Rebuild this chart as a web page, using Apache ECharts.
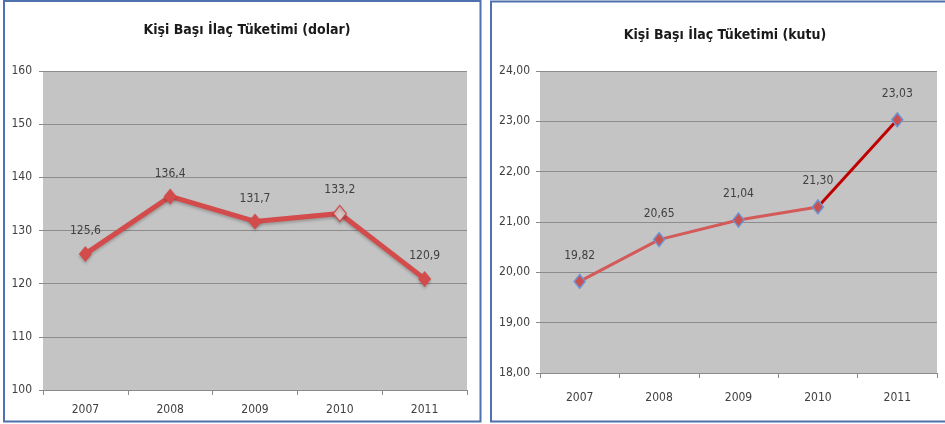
<!DOCTYPE html>
<html>
<head>
<meta charset="utf-8">
<script src="https://cdn.jsdelivr.net/npm/echarts@6/dist/echarts.min.js"></script>
<style>
  html, body { margin: 0; padding: 0; background: #ffffff; }
  #chart { width: 945px; height: 424px; }
</style>
</head>
<body>
<div id="chart"></div>
<script>
// Years shared by both panels
const years = ['2007', '2008', '2009', '2010', '2011'];

// Per-capita drug consumption, US dollars
const dollarValues = [125.6, 136.4, 131.7, 133.2, 120.9];

// Per-capita drug consumption, boxes
const boxValues = [19.82, 20.65, 21.04, 21.30, 23.03];

// Axis tick values
const dollarTicks = [100, 110, 120, 130, 140, 150, 160];
const boxTicks = [18, 19, 20, 21, 22, 23, 24];

const FONT = "'Liberation Sans Narrow', 'DejaVu Sans Condensed', 'Liberation Sans', sans-serif";
const TEXT = '#404040';
const PLOT_BG = '#c4c4c4';
const GRID_LINE = '#8c8c8c';

const trNum = (v, d) => Number(v).toFixed(d).replace('.', ',');

const chart = echarts.init(document.getElementById('chart'), null, { renderer: 'canvas' });

function xAxisFor(gridIndex, margin) {
  return {
    type: 'category',
    gridIndex,
    data: years,
    boundaryGap: true,
    axisLine: { show: true, lineStyle: { color: '#8a8a8a', width: 1 } },
    axisTick: { show: true, length: 5, alignWithLabel: false, lineStyle: { color: '#8a8a8a' } },
    axisLabel: { color: TEXT, fontFamily: FONT, fontSize: 12, margin },
    splitLine: { show: false }
  };
}

function yAxisFor(gridIndex, ticks, decimals, margin) {
  return {
    type: 'value',
    gridIndex,
    min: ticks[0],
    max: ticks[ticks.length - 1],
    interval: ticks[1] - ticks[0],
    axisLine: { show: false },
    axisTick: { show: true, length: 4, lineStyle: { color: '#8a8a8a' } },
    axisLabel: {
      color: TEXT, fontFamily: FONT, fontSize: 12, margin,
      formatter: v => trNum(v, decimals)
    },
    splitLine: { show: true, lineStyle: { color: GRID_LINE, width: 1 } }
  };
}

// Left line: thick red with soft drop shadow, hollow marker on 2010
const dollarData = dollarValues.map((v, i) => {
  if (i === 3) {
    return {
      value: v,
      itemStyle: { color: '#d6c4c4', borderColor: '#d24a4a', borderWidth: 1.2 }
    };
  }
  return v;
});

// Right line: light red up to 2010, darker red segment 2010 -> 2011
const boxFirst = boxValues.map((v, i) => (i <= 3 ? v : '-'));
const boxLast = boxValues.map((v, i) => {
  if (i === 3) return { value: v, symbol: 'none', label: { show: false } };
  if (i === 4) return v;
  return '-';
});

const boxMarker = {
  symbol: 'diamond',
  symbolSize: [11, 14],
  itemStyle: { color: '#c9504e', borderColor: '#6f93d0', borderWidth: 1.5 }
};

const boxLabel = {
  show: true,
  position: 'top',
  distance: 12,
  color: TEXT,
  fontFamily: FONT,
  fontSize: 12,
  formatter: p => trNum(p.value, 2)
};

const option = {
  backgroundColor: '#ffffff',
  animation: false,
  title: [
    {
      text: 'Kişi Başı İlaç Tüketimi (dolar)',
      left: 242, top: 18, textAlign: 'center',
      textStyle: { fontFamily: FONT, fontWeight: 'bold', fontSize: 14, color: '#1a1a1a' }
    },
    {
      text: 'Kişi Başı İlaç Tüketimi (kutu)',
      left: 720, top: 23, textAlign: 'center',
      textStyle: { fontFamily: FONT, fontWeight: 'bold', fontSize: 14, color: '#1a1a1a' }
    }
  ],
  grid: [
    { left: 43, top: 71, width: 424, height: 319, show: true, backgroundColor: PLOT_BG, borderWidth: 0, containLabel: false },
    { left: 540, top: 71, width: 397, height: 302, show: true, backgroundColor: PLOT_BG, borderWidth: 0, containLabel: false }
  ],
  xAxis: [xAxisFor(0, 14), xAxisFor(1, 19)],
  yAxis: [yAxisFor(0, dollarTicks, 0, 11), yAxisFor(1, boxTicks, 2, 10)],
  series: [
    {
      type: 'line',
      xAxisIndex: 0, yAxisIndex: 0,
      data: dollarData,
      symbol: 'diamond',
      symbolSize: [13, 16],
      lineStyle: {
        color: '#d34b4b', width: 5,
        shadowColor: 'rgba(0,0,0,0.22)', shadowBlur: 3, shadowOffsetY: 2
      },
      itemStyle: {
        color: '#d34b4b',
        shadowColor: 'rgba(0,0,0,0.22)', shadowBlur: 3, shadowOffsetY: 2
      },
      label: {
        show: true, position: 'top', distance: 9,
        color: TEXT, fontFamily: FONT, fontSize: 12,
        formatter: p => trNum(p.value, 1)
      },
      z: 3
    },
    Object.assign({
      type: 'line',
      xAxisIndex: 1, yAxisIndex: 1,
      data: boxFirst,
      lineStyle: { color: '#d45a5a', width: 3 },
      label: boxLabel,
      z: 4
    }, boxMarker),
    Object.assign({
      type: 'line',
      xAxisIndex: 1, yAxisIndex: 1,
      data: boxLast,
      lineStyle: { color: '#c00000', width: 3 },
      label: boxLabel,
      z: 3
    }, boxMarker)
  ],
  graphic: [
    // panel frames
    {
      type: 'rect', silent: true, z: 100,
      shape: { x: 4, y: 1, width: 476.5, height: 420.5 },
      style: { fill: 'none', stroke: '#4f71ad', lineWidth: 2 }
    },
    {
      type: 'rect', silent: true, z: 100,
      shape: { x: 491, y: 1.5, width: 460, height: 420 },
      style: { fill: 'none', stroke: '#4f71ad', lineWidth: 2 }
    }
  ]
};

chart.setOption(option);
</script>
</body>
</html>
